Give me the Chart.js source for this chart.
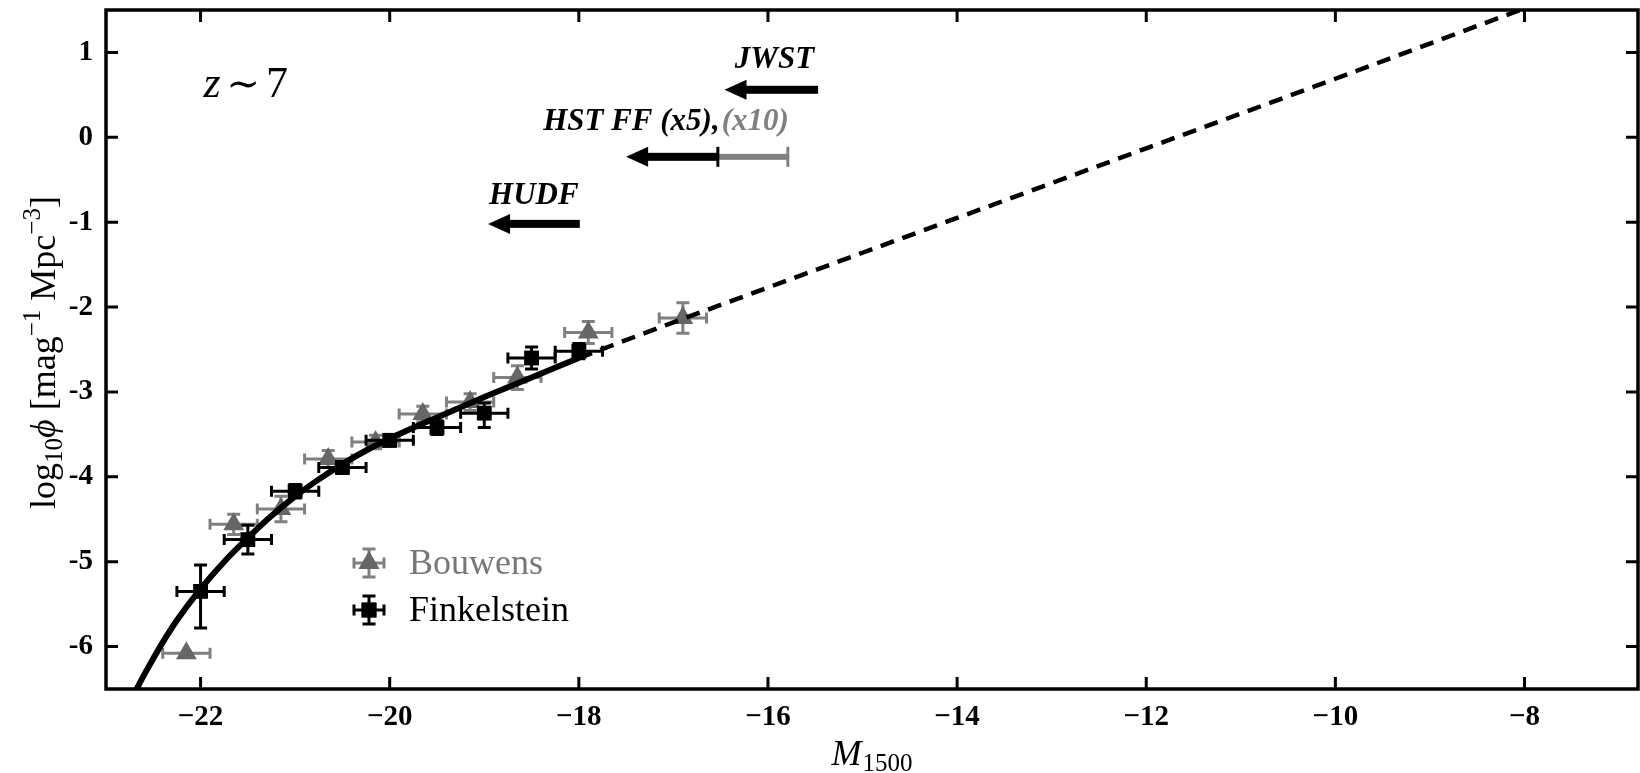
<!DOCTYPE html>
<html>
<head>
<meta charset="utf-8">
<script src="https://cdn.jsdelivr.net/npm/chart.js@4.4.1/dist/chart.umd.min.js"></script>
<style>
  html, body { margin: 0; padding: 0; background: #fff; overflow: hidden; }
  canvas { display: block; }
  #fontWarm { position: absolute; left: 0; top: 0; visibility: hidden; font-family: "Liberation Serif", "Times New Roman", "DejaVu Serif", serif; }
</style>
</head>
<body>
<span id="fontWarm"><b>-1</b> <i>z</i> <b><i>JWST</i></b> Bouwens</span>
<canvas id="lfPlot" width="1640" height="773"></canvas>
<script>
// fitted luminosity function (solid = constrained, dashed = extrapolation)
const fitMagSolid = [-22.7, -22.6, -22.5, -22.4, -22.25, -22.0, -21.75, -21.5, -21.25, -21.0, -20.75, -20.5, -20.25, -20.0, -19.5, -19.0, -18.5, -18.0];
const fitPhiSolid = [-6.55, -6.34, -6.14, -5.95, -5.69, -5.32, -5.00, -4.72, -4.46, -4.23, -4.03, -3.85, -3.69, -3.55, -3.30, -3.06, -2.83, -2.60];
const fitMagDashed = [-18.0, -17.0, -16.0, -15.0, -14.0, -12.0, -10.0, -8.0];
const fitPhiDashed = [-2.60, -2.18, -1.77, -1.36, -0.95, -0.13, 0.69, 1.52];

// Bouwens points
const bouwensMag = [-22.15, -21.65, -21.15, -20.65, -20.15, -19.65, -19.15, -18.65, -17.90, -16.90];
const bouwensPhi = [-6.08, -4.56, -4.38, -3.79, -3.59, -3.26, -3.12, -2.83, -2.30, -2.13];
const bouwensMagErr = [0.25, 0.25, 0.25, 0.25, 0.25, 0.25, 0.25, 0.25, 0.25, 0.25];
const bouwensPhiErr = [0.0, 0.12, 0.15, 0.10, 0.08, 0.09, 0.10, 0.14, 0.13, 0.18];

// Finkelstein points
const finkMag = [-22.0, -21.5, -21.0, -20.5, -20.0, -19.5, -19.0, -18.5, -18.0];
const finkPhi = [-5.35, -4.74, -4.17, -3.89, -3.57, -3.42, -3.25, -2.60, -2.52];
const finkMagErr = [0.25, 0.25, 0.25, 0.25, 0.25, 0.25, 0.25, 0.25, 0.25];
const finkPhiErrUp = [0.31, 0.17, 0.08, 0.07, 0.07, 0.08, 0.12, 0.13, 0.09];
const finkPhiErrLo = [0.43, 0.17, 0.08, 0.07, 0.07, 0.08, 0.17, 0.13, 0.09];

const xTicks = [-22, -20, -18, -16, -14, -12, -10, -8];
const yTicks = [-6, -5, -4, -3, -2, -1, 0, 1];

// survey depth limits (arrows)
const limitNames = ['JWST', 'HST FF (x5),', 'HUDF'];
const limitTail = [-15.47, -16.53, -17.99];
const limitTip = [-16.46, -17.50, -18.96];
const limitPhi = [0.56, -0.23, -1.02];
const ffDeepRange = [-16.53, -15.79];

const serif = '"Liberation Serif", "Times New Roman", "DejaVu Serif", serif';
const grayMark = '#666666';
const grayBar = '#808080';

function toPoints(xs, ys) {
  return xs.map((x, i) => ({ x: x, y: ys[i] }));
}

function drawRich(ctx, segs, x, y, align) {
  let w = 0;
  segs.forEach(s => {
    ctx.font = s.font;
    s.w = ctx.measureText(s.text).width + (s.gap || 0);
    w += s.w;
  });
  let cx = align === 'center' ? x - w / 2 : (align === 'right' ? x - w : x);
  ctx.textAlign = 'left';
  ctx.textBaseline = 'alphabetic';
  segs.forEach(s => {
    ctx.font = s.font;
    ctx.fillStyle = s.color || '#000';
    ctx.fillText(s.text, cx, y + (s.dy || 0));
    cx += s.w;
  });
}

function errorBar(ctx, x1, y1, x2, y2, cap, vertical) {
  ctx.beginPath();
  ctx.moveTo(x1, y1);
  ctx.lineTo(x2, y2);
  if (vertical) {
    ctx.moveTo(x1 - cap, y1); ctx.lineTo(x1 + cap, y1);
    ctx.moveTo(x2 - cap, y2); ctx.lineTo(x2 + cap, y2);
  } else {
    ctx.moveTo(x1, y1 - cap); ctx.lineTo(x1, y1 + cap);
    ctx.moveTo(x2, y2 - cap); ctx.lineTo(x2, y2 + cap);
  }
  ctx.stroke();
}

// error bars are drawn just before each dataset's markers
const errorBarPlugin = {
  id: 'errorBars',
  beforeDatasetDraw(chart, args) {
    const ds = chart.data.datasets[args.index];
    if (!ds.errX) return;
    const { ctx, scales: { x: xs, y: ys } } = chart;
    ctx.save();
    ctx.strokeStyle = ds.barColor;
    ctx.lineWidth = 3;
    ds.data.forEach((p, i) => {
      const px = xs.getPixelForValue(p.x);
      const py = ys.getPixelForValue(p.y);
      errorBar(ctx, xs.getPixelForValue(p.x - ds.errX[i]), py, xs.getPixelForValue(p.x + ds.errX[i]), py, 5.5, false);
      if (ds.errUp[i] > 0 || ds.errLo[i] > 0) {
        errorBar(ctx, px, ys.getPixelForValue(p.y + ds.errUp[i]), px, ys.getPixelForValue(p.y - ds.errLo[i]), 6.5, true);
      }
    });
    ctx.restore();
  }
};

// frame with inward ticks on all four sides, texts, arrows and legend
const decorPlugin = {
  id: 'decor',
  afterDraw(chart) {
    const { ctx, chartArea: a, scales: { x: xs, y: ys } } = chart;
    ctx.save();

    // survey limit arrows
    limitTail.forEach((tail, i) => {
      const y = ys.getPixelForValue(limitPhi[i]);
      const x0 = xs.getPixelForValue(tail);
      const x1 = xs.getPixelForValue(limitTip[i]);
      ctx.fillStyle = '#000';
      ctx.fillRect(x1 + 20, y - 4, x0 - x1 - 20, 8);
      ctx.beginPath();
      ctx.moveTo(x1, y);
      ctx.lineTo(x1 + 22, y - 10);
      ctx.lineTo(x1 + 22, y + 10);
      ctx.closePath();
      ctx.fill();
    });
    // (x10) extension of the frontier fields limit
    const fy = ys.getPixelForValue(limitPhi[1]);
    const g0 = xs.getPixelForValue(ffDeepRange[0]);
    const g1 = xs.getPixelForValue(ffDeepRange[1]);
    ctx.fillStyle = grayBar;
    ctx.fillRect(g0, fy - 3, g1 - g0, 6);
    ctx.lineWidth = 3;
    ctx.strokeStyle = grayBar;
    ctx.beginPath(); ctx.moveTo(g1, fy - 10); ctx.lineTo(g1, fy + 10); ctx.stroke();
    ctx.strokeStyle = '#000';
    ctx.beginPath(); ctx.moveTo(g0, fy - 10); ctx.lineTo(g0, fy + 10); ctx.stroke();

    // labels over the arrows
    const boldIt = 'italic bold 31px ' + serif;
    drawRich(ctx, [{ text: limitNames[0], font: boldIt }], xs.getPixelForValue(limitTail[0]) - 4, ys.getPixelForValue(0.82), 'right');
    drawRich(ctx, [
      { text: limitNames[1], font: boldIt, gap: 2 },
      { text: '(x10)', font: boldIt, color: grayBar }
    ], xs.getPixelForValue(ffDeepRange[1]) + 1, ys.getPixelForValue(0.085), 'right');
    drawRich(ctx, [{ text: limitNames[2], font: boldIt }], xs.getPixelForValue(limitTip[2]) + 1, ys.getPixelForValue(-0.78), 'left');

    // redshift label
    drawRich(ctx, [
      { text: 'z', font: 'italic 44px ' + serif, gap: 6 },
      { text: '\u223C', font: '40px ' + serif, gap: 6 },
      { text: '7', font: '44px ' + serif }
    ], xs.getPixelForValue(-21.97), ys.getPixelForValue(0.47), 'left');

    // legend
    const legendRows = [
      { y: 563, name: 'Bouwens', color: grayMark, bar: grayBar, style: 'triangle', r: 12, text: '#777777' },
      { y: 610, name: 'Finkelstein', color: '#000', bar: '#000', style: 'rect', r: 10.5, text: '#000' }
    ];
    legendRows.forEach(r => {
      const lx = 369;
      ctx.strokeStyle = r.bar;
      ctx.lineWidth = 3;
      errorBar(ctx, lx - 15, r.y, lx + 15, r.y, 5.5, false);
      errorBar(ctx, lx, r.y - 14, lx, r.y + 14, 6.5, true);
      ctx.fillStyle = r.color;
      Chart.helpers.drawPoint(ctx, { pointStyle: r.style, radius: r.r, borderWidth: 0, rotation: 0 }, lx, r.y);
      ctx.fill();
      drawRich(ctx, [{ text: r.name, font: '36px ' + serif, color: r.text }], 409, r.y + 11, 'left');
    });

    // frame
    ctx.strokeStyle = '#000';
    ctx.lineWidth = 3.5;
    ctx.strokeRect(a.left, a.top, a.right - a.left, a.bottom - a.top);
    ctx.lineWidth = 3;
    ctx.beginPath();
    xTicks.forEach(v => {
      const px = xs.getPixelForValue(v);
      ctx.moveTo(px, a.bottom); ctx.lineTo(px, a.bottom - 12);
      ctx.moveTo(px, a.top); ctx.lineTo(px, a.top + 12);
    });
    yTicks.forEach(v => {
      const py = ys.getPixelForValue(v);
      ctx.moveTo(a.left, py); ctx.lineTo(a.left + 12, py);
      ctx.moveTo(a.right, py); ctx.lineTo(a.right - 12, py);
    });
    ctx.stroke();

    // axis titles
    drawRich(ctx, [
      { text: 'M', font: 'italic 36px ' + serif, gap: 1 },
      { text: '1500', font: '25px ' + serif, dy: 6 }
    ], (a.left + a.right) / 2, 765, 'center');

    ctx.translate(55, (a.top + a.bottom) / 2 + 3);
    ctx.rotate(-Math.PI / 2);
    drawRich(ctx, [
      { text: 'log', font: '36px ' + serif },
      { text: '10', font: '25px ' + serif, dy: 7 },
      { text: '\u03D5', font: 'italic 36px ' + serif, gap: 9 },
      { text: '[mag', font: '36px ' + serif },
      { text: '\u22121', font: '25px ' + serif, dy: -15, gap: 9 },
      { text: 'Mpc', font: '36px ' + serif },
      { text: '\u22123', font: '25px ' + serif, dy: -15 },
      { text: ']', font: '36px ' + serif }
    ], 0, 0, 'center');

    ctx.restore();
  }
};

function buildChart() {
  new Chart(document.getElementById('lfPlot'), {
    type: 'scatter',
    data: {
      datasets: [
        {
          label: 'fit',
          data: toPoints(fitMagSolid, fitPhiSolid),
          showLine: true,
          borderColor: '#000',
          borderWidth: 6,
          pointRadius: 0,
          cubicInterpolationMode: 'monotone',
          order: 0
        },
        {
          label: 'fit (extrapolated)',
          data: toPoints(fitMagDashed, fitPhiDashed),
          showLine: true,
          borderColor: '#000',
          borderWidth: 4.5,
          borderDash: [14, 9],
          pointRadius: 0,
          cubicInterpolationMode: 'monotone',
          order: 0
        },
        {
          label: 'Finkelstein',
          data: toPoints(finkMag, finkPhi),
          pointStyle: 'rect',
          pointRadius: 10.5,
          backgroundColor: '#000',
          borderWidth: 0,
          errX: finkMagErr, errUp: finkPhiErrUp, errLo: finkPhiErrLo, barColor: '#000',
          order: 1
        },
        {
          label: 'Bouwens',
          data: toPoints(bouwensMag, bouwensPhi),
          pointStyle: 'triangle',
          pointRadius: 12,
          backgroundColor: grayMark,
          borderWidth: 0,
          errX: bouwensMagErr, errUp: bouwensPhiErr, errLo: bouwensPhiErr, barColor: grayBar,
          order: 2
        }
      ]
    },
    options: {
      responsive: false,
      animation: false,
      devicePixelRatio: 1,
      layout: { autoPadding: false, padding: { top: 10, right: 2, left: 0, bottom: 0 } },
      plugins: { legend: { display: false }, tooltip: { enabled: false } },
      scales: {
        x: {
          type: 'linear',
          min: -23,
          max: -6.8,
          afterBuildTicks: axis => { axis.ticks = xTicks.map(v => ({ value: v })); },
          afterFit: axis => { axis.height = 84; axis.paddingLeft = 0; axis.paddingRight = 0; },
          grid: { display: false, drawTicks: false },
          border: { display: false },
          ticks: {
            padding: 11,
            color: '#000',
            font: { family: serif, weight: 'bold', size: 29 },
            callback: v => '\u2212' + Math.abs(v)
          }
        },
        y: {
          type: 'linear',
          min: -6.5,
          max: 1.5,
          afterBuildTicks: axis => { axis.ticks = yTicks.map(v => ({ value: v })); },
          afterFit: axis => { axis.width = 106; axis.paddingTop = 0; axis.paddingBottom = 0; },
          grid: { display: false, drawTicks: false },
          border: { display: false },
          ticks: {
            padding: 13,
            color: '#000',
            font: { family: serif, weight: 'bold', size: 29 },
            callback: v => String(v)
          }
        }
      }
    },
    plugins: [errorBarPlugin, decorPlugin]
  });
}

const fontLoads = [
  'bold 29px "Liberation Serif"', 'italic bold 31px "Liberation Serif"',
  'italic 36px "Liberation Serif"', '36px "Liberation Serif"'
].map(f => document.fonts.load(f).catch(() => null));
Promise.all(fontLoads).then(buildChart, buildChart);
</script>
</body>
</html>
